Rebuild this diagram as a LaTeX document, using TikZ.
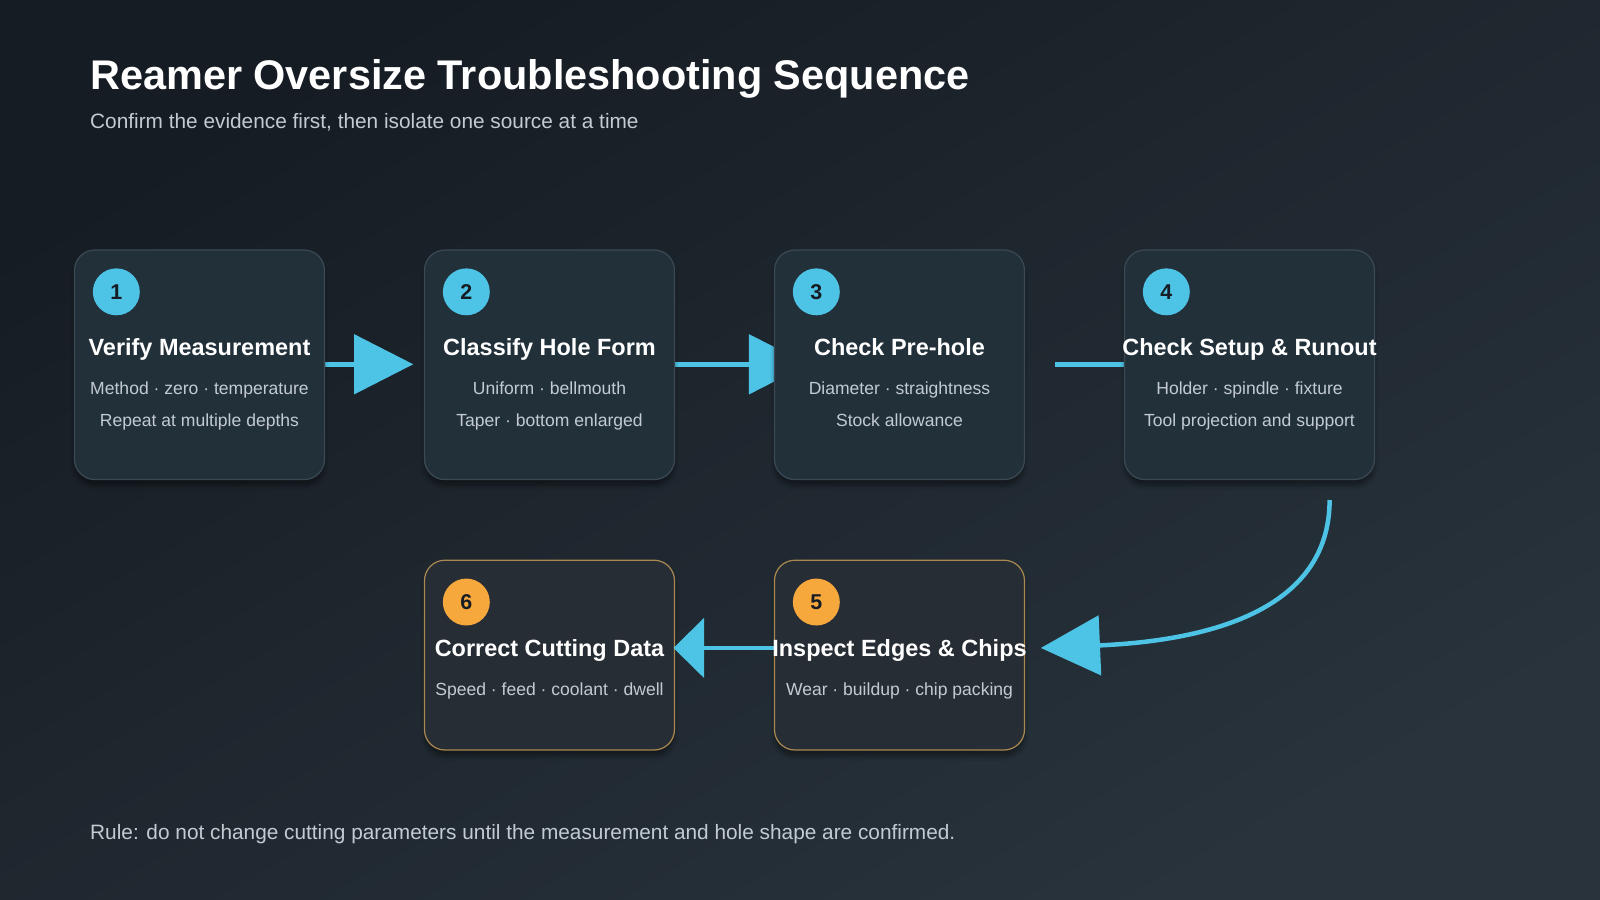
\documentclass[tikz,border=0pt]{standalone}
\usepackage{fontspec}
\setmainfont{Liberation Sans}
\usetikzlibrary{arrows.meta,shadows.blur}
\definecolor{bgA}{HTML}{161C23}
\definecolor{bgB}{HTML}{28333C}
\definecolor{boxA}{HTML}{22303A}
\definecolor{boxB}{HTML}{272D34}
\definecolor{edgeA}{HTML}{3A4954}
\definecolor{edgeB}{HTML}{A88850}
\definecolor{cyanc}{HTML}{4DC3E5}
\definecolor{orng}{HTML}{F6A83C}
\definecolor{subt}{HTML}{C3CBD2}
\begin{document}
\begin{tikzpicture}[x=0.5pt,y=-0.5pt,
  box/.style={draw=edgeA,line width=0.6pt,fill=boxA,rounded corners=10pt,minimum width=122.5pt,minimum height=112.5pt,blur shadow={shadow blur steps=6,shadow xshift=0pt,shadow yshift=-3pt,shadow opacity=40}},
  boxo/.style={box,draw=edgeB,fill=boxB,minimum height=93pt},
  num/.style={circle,minimum size=23pt,inner sep=0pt,font=\bfseries\fontsize{10.5}{12}\selectfont,text=bgA},
  ttl/.style={font=\bfseries\fontsize{11.5}{13}\selectfont,text=white,anchor=base,inner sep=0pt},
  sub/.style={font=\fontsize{8.6}{10}\selectfont,text=subt,anchor=base,inner sep=0pt},
  conn/.style={draw=cyanc,line width=2.2pt,-{Triangle[length=29pt,width=29pt]}},
  conns/.style={draw=cyanc,line width=2.2pt,-{Triangle[length=15pt,width=29pt]}}]
\shade[top color=bgA,bottom color=bgB,shading angle=30] (0,0) rectangle (1568,882);
\useasboundingbox (0,0) rectangle (1568,882);
\node[anchor=base west,inner sep=0pt,font=\bfseries\fontsize{20.3}{22}\selectfont,text=white] (title) at (88,88) {Reamer Oversize Troubleshooting Sequence};
\node[anchor=base west,inner sep=0pt,font=\fontsize{10.2}{12}\selectfont,text=subt] (subtitle) at (88,126) {Confirm the evidence first, then isolate one source at a time};
\node[anchor=base west,inner sep=0pt,font=\fontsize{10.2}{12}\selectfont,text=subt] (rule) at (88,823) {Rule: do not change cutting parameters until the measurement and hole shape are confirmed.};
% connectors (under boxes)
\coordinate (t12) at (405,357);
\coordinate (t23) at (792,357);
\coordinate (s34) at (1034,357);
\coordinate (t34) at (1170,357);
\coordinate (s45) at (1303,490);
\coordinate (t45) at (1020,635);
\coordinate (s56) at (759,635);
\coordinate (t56) at (660,635);
\coordinate (b1e) at (318,357);
\coordinate (b2e) at (661,357);
\path[conn] (b1e) -- (t12);
\path[conn] (b2e) -- (t23);
\path[conn] (s34) -- (t34);
\path[conn] (s45) .. controls (1303,600) and (1180,628) .. (t45);
% boxes
\node[box] (b1) at (195.5,357.5) {};
\node[box] (b2) at (538.5,357.5) {};
\node[box] (b3) at (881.5,357.5) {};
\node[box] (b4) at (1224.5,357.5) {};
\node[boxo] (b6) at (538.5,642) {};
\node[boxo] (b5) at (881.5,642) {};
\path[conns] (s56) -- (t56);
\foreach \n/\x/\y/\c in {1/114/286/cyanc,2/457/286/cyanc,3/800/286/cyanc,4/1143/286/cyanc,6/457/590/orng,5/800/590/orng}
  \node[num,fill=\c] (n\n) at (\x,\y) {\n};
\node[ttl] (h1) at (195.5,348) {Verify Measurement};
\node[sub] (p1a) at (195.5,387) {Method · zero · temperature};
\node[sub] (p1b) at (195.5,418) {Repeat at multiple depths};
\node[ttl] (h2) at (538.5,348) {Classify Hole Form};
\node[sub] (p2a) at (538.5,387) {Uniform · bellmouth};
\node[sub] (p2b) at (538.5,418) {Taper · bottom enlarged};
\node[ttl] (h3) at (881.5,348) {Check Pre-hole};
\node[sub] (p3a) at (881.5,387) {Diameter · straightness};
\node[sub] (p3b) at (881.5,418) {Stock allowance};
\node[ttl] (h4) at (1224.5,348) {Check Setup \& Runout};
\node[sub] (p4a) at (1224.5,387) {Holder · spindle · fixture};
\node[sub] (p4b) at (1224.5,418) {Tool projection and support};
\node[ttl] (h6) at (538.5,643) {Correct Cutting Data};
\node[sub] (p6a) at (538.5,682) {Speed · feed · coolant · dwell};
\node[ttl] (h5) at (881.5,643) {Inspect Edges \& Chips};
\node[sub] (p5a) at (881.5,682) {Wear · buildup · chip packing};
\end{tikzpicture}
\end{document}
